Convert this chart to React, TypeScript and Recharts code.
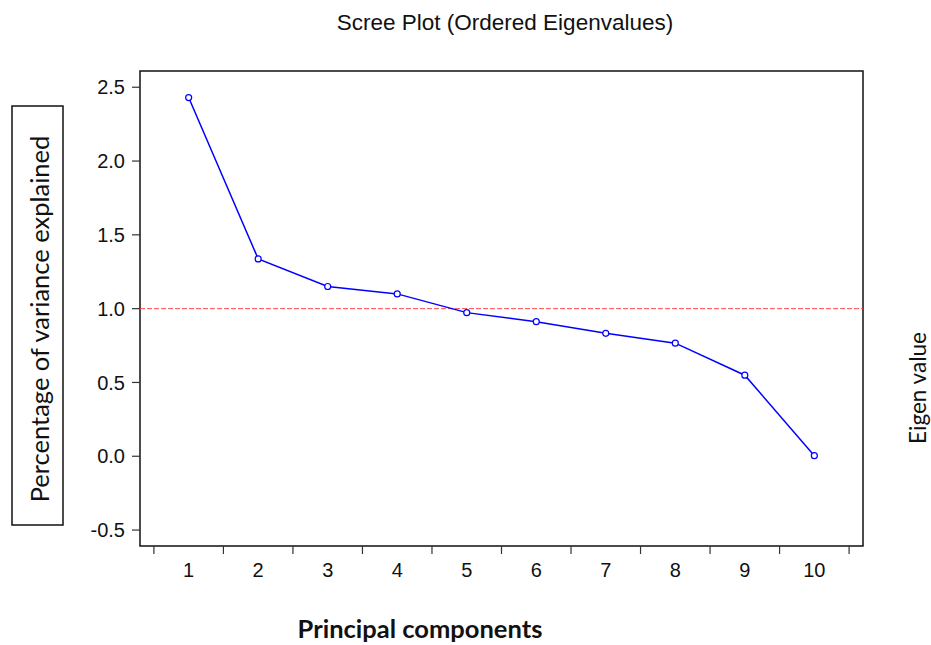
import React from 'react';
import { LineChart, Line, XAxis, YAxis, ReferenceLine, ReferenceArea } from 'recharts';

const components = [1, 2, 3, 4, 5, 6, 7, 8, 9, 10];
const eigenvalues = [2.43, 1.337, 1.15, 1.1, 0.973, 0.912, 0.833, 0.766, 0.549, 0.004];
const yTicks = [-0.5, 0, 0.5, 1, 1.5, 2, 2.5];
const xTicks = [0.5, 1, 1.5, 2, 2.5, 3, 3.5, 4, 4.5, 5, 5.5, 6, 6.5, 7, 7.5, 8, 8.5, 9, 9.5, 10, 10.5];

const data = components.map((c, i) => ({ pc: c, value: eigenvalues[i] }));

const W = 931;
const H = 645;
const tickFont = '"Liberation Sans", Arial, sans-serif';
const labelFont = 'Lato, "Noto Sans", sans-serif';

// bottom axis: marks sit between components, numbers at components
const XTick = (props: any) => {
  const { x, y, payload } = props;
  if (!Number.isInteger(payload.value)) {
    return <line x1={x} x2={x} y1={y} y2={y + 8} stroke="#333" strokeWidth={1.2} />;
  }
  return (
    <text x={x} y={y + 31} textAnchor="middle" fontSize={20} fontFamily={tickFont} fill="#111">
      {payload.value}
    </text>
  );
};

const App: React.FC = () => {
  return (
    <div style={{ position: 'absolute', left: 0, top: 0, width: W, height: H, background: '#fff' }}>
      <LineChart width={W} height={H} data={data} margin={{ top: 71, right: 68, left: 80, bottom: 59 }}>
        <XAxis
          dataKey="pc"
          type="number"
          domain={[0.3, 10.7]}
          ticks={xTicks}
          interval={0}
          tick={<XTick />}
          tickLine={false}
          tickSize={0}
          tickMargin={0}
          axisLine={false}
          height={40}
        />
        <YAxis
          type="number"
          domain={[-0.608, 2.61]}
          ticks={yTicks}
          interval={0}
          width={60}
          tickSize={8}
          tickMargin={7}
          tickLine={{ stroke: '#333', strokeWidth: 1.2 }}
          axisLine={false}
          tickFormatter={(v: number) => v.toFixed(1)}
          tick={{ fontSize: 20, fontFamily: tickFont, fill: '#111' }}
        />
        <ReferenceArea
          x1={0.3}
          x2={10.7}
          y1={-0.608}
          y2={2.61}
          fill="none"
          fillOpacity={0}
          stroke="#111"
          strokeWidth={1.5}
        />
        <ReferenceLine y={1} stroke="#ff4a4a" strokeDasharray="5 2" strokeWidth={1} />
        <Line
          dataKey="value"
          stroke="#0000ff"
          strokeWidth={1.5}
          dot={{ r: 3, stroke: '#0000ff', strokeWidth: 1.2, fill: '#fff' }}
          isAnimationActive={false}
        />
      </LineChart>
      <svg width={W} height={H} style={{ position: 'absolute', left: 0, top: 0, pointerEvents: 'none' }}>
        <text x={505} y={30} textAnchor="middle" fontSize={22.5} fontFamily={tickFont} fill="#111">
          Scree Plot (Ordered Eigenvalues)
        </text>
        <rect x={12} y={106} width={51} height={419} fill="none" stroke="#111" strokeWidth={1.5} />
        <text
          transform="translate(49 319) rotate(-90)"
          textAnchor="middle"
          fontSize={25.5}
          fontFamily={labelFont}
          fill="#111"
        >
          Percentage of variance explained
        </text>
        <text
          transform="translate(926 388) rotate(-90)"
          textAnchor="middle"
          fontSize={22.5}
          fontFamily={labelFont}
          fill="#111"
        >
          Eigen value
        </text>
        <text x={420} y={638} textAnchor="middle" fontSize={25.5} fontWeight="bold" fontFamily={labelFont} fill="#111">
          Principal components
        </text>
      </svg>
    </div>
  );
};

export default App;
